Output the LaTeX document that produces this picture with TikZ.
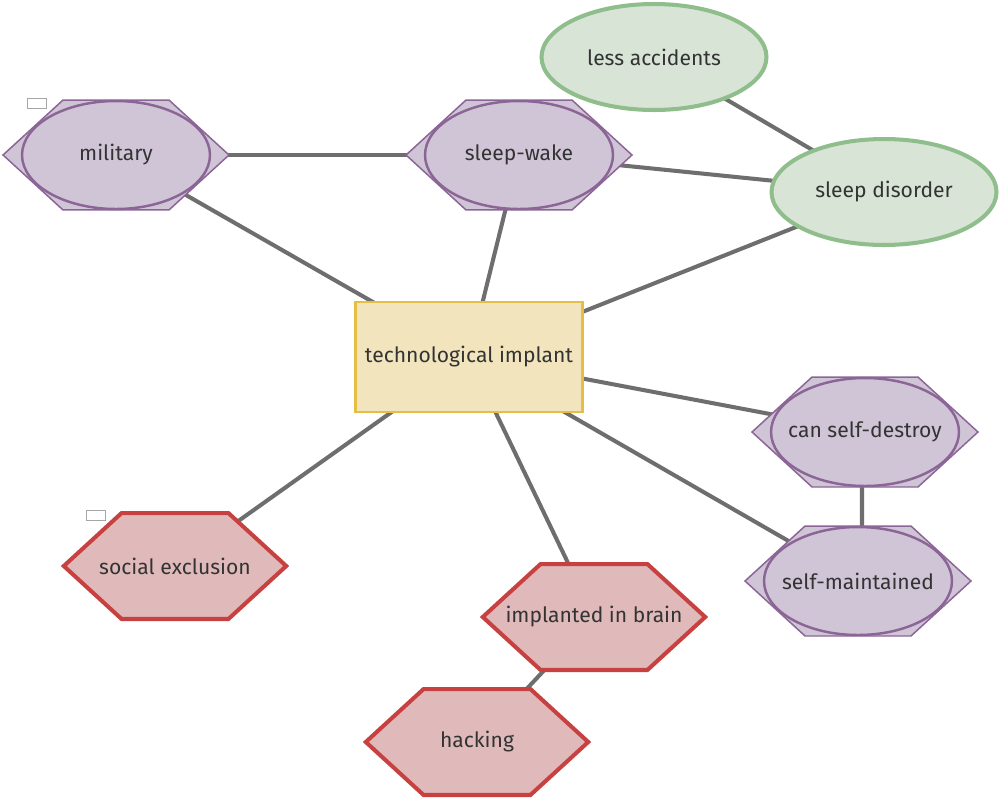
\documentclass[tikz,border=0pt]{standalone}
\usepackage{fontspec}
\setmainfont{Fira Sans}
\usetikzlibrary{shapes.geometric,shapes.symbols,backgrounds}

\definecolor{plum}{RGB}{139,101,150}
\definecolor{lilac}{RGB}{208,197,214}
\definecolor{sage}{RGB}{143,190,140}
\definecolor{mint}{RGB}{216,229,214}
\definecolor{gold}{RGB}{230,190,70}
\definecolor{cream}{RGB}{242,229,190}
\definecolor{brick}{RGB}{200,65,65}
\definecolor{blush}{RGB}{224,186,186}
\definecolor{linkgray}{RGB}{110,110,110}
\definecolor{textgray}{RGB}{51,51,51}

\begin{document}
\begin{tikzpicture}[
    x=0.02cm, y=-0.02cm,
    font=\fontsize{12}{14}\selectfont,
    text=textgray,
    hexa/.style={
		signal,
		signal to=east and west,
		signal pointer angle=85,
		draw=plum,
		line width=0.85pt,
		fill=lilac,
		minimum width=4.52cm,
		minimum height=2.2cm,
		inner xsep=-2.5cm,
		inner ysep=0pt
	},
    idea/.style={
		ellipse,
		draw=plum,
		line width=1.4pt,
		fill=lilac,
		minimum width=3.76cm,
		minimum height=2.16cm,
		inner xsep=-2cm,
		inner ysep=0pt
	},
    benefit/.style={
		ellipse,
		draw=sage,
		line width=2.3pt,
		fill=mint,
		minimum width=4.5cm,
		minimum height=2.12cm,
		inner xsep=-2cm,
		inner ysep=0pt
	},
    risk/.style={
		signal,
		signal to=east and west,
		signal pointer angle=85,
		draw=brick,
		line width=2.3pt,
		fill=blush,
		minimum width=4.45cm,
		minimum height=2.12cm,
		inner xsep=-2.5cm,
		inner ysep=0pt
	},
    centre/.style={
		rectangle,
		draw=gold,
		line width=1.4pt,
		fill=cream,
		minimum width=4.54cm,
		minimum height=2.2cm,
		inner sep=0pt
	},
    tag/.style={
		rectangle,
		draw=gray!70,
		line width=0.8pt,
		fill=white,
		minimum width=0.38cm,
		minimum height=0.2cm,
		inner sep=0pt
	},
    link/.style={
		draw=linkgray,
		line width=2.3pt
	}
  ]
    % We start by placing the blocks
  \node [centre] (implant) at (469,357) {technological implant};

  \node [hexa] (military-h) at (116,155) {};
  \node [idea] (military) at (military-h.center) {military};
  \node [tag] (military-tag) at (37,103.5) {};

  \node [hexa] (sleepwake-h) at (519,155) {};
  \node [idea] (sleepwake) at (sleepwake-h.center) {sleep-wake};

  \node [benefit] (accidents) at (654,57) {less accidents};
  \node [benefit] (disorder) at (884,192) {sleep disorder};

  \node [hexa] (destroy-h) at (865,432) {};
  \node [idea] (destroy) at (destroy-h.center) {can self-destroy};

  \node [hexa] (maintained-h) at (858,581) {};
  \node [idea] (maintained) at (maintained-h.center) {self-maintained};

  \node [risk] (exclusion) at (175,566) {social exclusion};
  \node [tag] (exclusion-tag) at (96,515.5) {};

  \node [risk] (brain) at (594,617) {implanted in brain};
  \node [risk] (hacking) at (477,742) {hacking};

  % connections go behind the blocks
  \begin{scope}[on background layer]
  \draw [link] (military.center) -- (sleepwake.center);
  \draw [link] (military.center) -- (implant.center);
  \draw [link] (sleepwake.center) -- (implant.center);
  \draw [link] (sleepwake.center) -- (disorder.center);
  \draw [link] (accidents.center) -- (disorder.center);
  \draw [link] (disorder.center) -- (implant.center);
  \draw [link] (implant.center) -- (destroy.center);
  \draw [link] (implant.center) -- (maintained.center);
  \draw [link] ([xshift=-0.06cm]destroy.center) -- ([xshift=0.08cm]maintained.center);
  \draw [link] (implant.center) -- (exclusion.center);
  \draw [link] (implant.center) -- (brain.center);
  \draw [link] (brain.center) -- (hacking.center);
  \end{scope}

  \useasboundingbox (0,0) rectangle (1000,797);
\end{tikzpicture}
\end{document}
